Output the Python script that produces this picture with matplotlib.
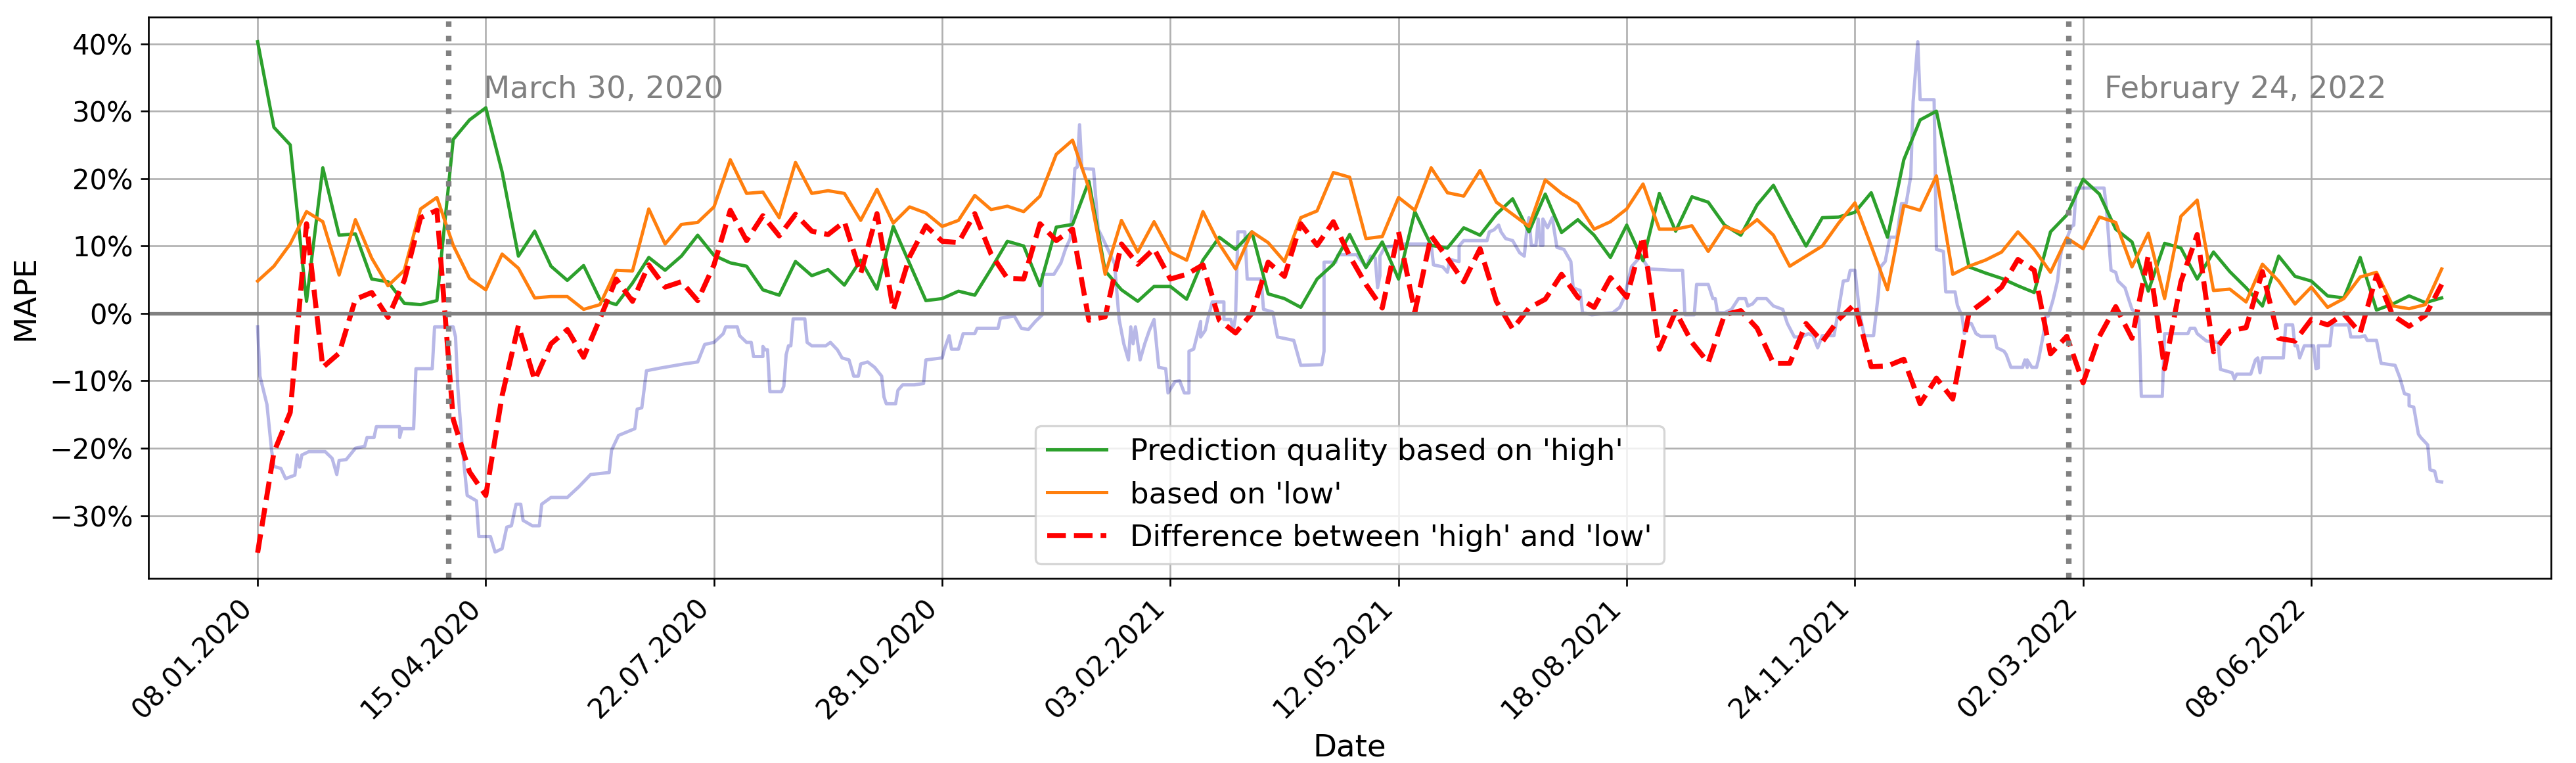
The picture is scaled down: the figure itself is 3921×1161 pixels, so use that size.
import numpy as np
import pandas as pd
import matplotlib
matplotlib.use('Agg')
import matplotlib.pyplot as plt
from matplotlib.ticker import PercentFormatter

# weekly points, every Wednesday from 08.01.2020
start = pd.Timestamp('2020-01-08')
n_weeks = 135

# MAPE in percent, prediction based on 'high'
mape_high = [
    40.3, 27.6, 25.0, 1.8, 21.6, 11.6, 11.8, 5.1, 4.7, 1.5,
    1.3, 1.9, 25.8, 28.7, 30.5, 21.0, 8.5, 12.2, 7.0, 4.9,
    7.1, 2.1, 1.3, 4.5, 8.3, 6.4, 8.5, 11.6, 8.6, 7.5,
    7.0, 3.5, 2.7, 7.7, 5.6, 6.5, 4.2, 7.9, 3.6, 12.9,
    7.4, 1.9, 2.2, 3.3, 2.7, 6.6, 10.7, 10.0, 4.1, 12.8,
    13.2, 19.6, 6.3, 3.5, 1.8, 4.0, 4.0, 2.1, 7.9, 11.3,
    9.5, 12.1, 2.9, 2.2, 0.9, 5.1, 7.3, 11.7, 6.8, 10.6,
    5.1, 15.1, 10.1, 9.7, 12.7, 11.6, 14.7, 17.0, 12.1, 17.7,
    12.0, 13.9, 11.6, 8.3, 13.1, 7.8, 17.8, 12.2, 17.3, 16.5,
    13.1, 11.6, 16.1, 19.0, 14.4, 10.0, 14.2, 14.3, 15.0, 17.9,
    11.3, 22.8, 28.7, 30.0, 18.5, 6.9, 6.0, 5.2, 4.1, 3.1,
    12.1, 14.6, 19.9, 17.7, 12.5, 10.6, 3.3, 10.4, 9.7, 5.1,
    9.1, 6.2, 3.8, 1.1, 8.5, 5.5, 4.8, 2.6, 2.3, 8.3,
    0.5, 1.4, 2.6, 1.6, 2.3,
]

# MAPE in percent, prediction based on 'low'
mape_low = [
    4.8, 7.0, 10.3, 15.1, 13.6, 5.7, 13.9, 8.2, 4.1, 6.4,
    15.5, 17.2, 10.1, 5.2, 3.5, 8.8, 6.7, 2.3, 2.5, 2.5,
    0.6, 1.3, 6.4, 6.3, 15.5, 10.3, 13.2, 13.5, 15.8, 22.8,
    17.8, 18.0, 14.2, 22.4, 17.8, 18.2, 17.8, 13.8, 18.4, 13.4,
    15.8, 14.9, 12.9, 13.8, 17.5, 15.4, 15.9, 15.1, 17.4, 23.6,
    25.7, 18.6, 5.8, 13.8, 9.1, 13.6, 9.1, 7.9, 15.1, 10.3,
    6.6, 12.1, 10.5, 7.7, 14.2, 15.2, 20.9, 20.2, 11.1, 11.4,
    17.2, 15.3, 21.6, 17.9, 17.4, 21.2, 16.5, 14.7, 12.9, 19.8,
    17.8, 16.3, 12.5, 13.6, 15.5, 19.2, 12.5, 12.5, 13.0, 9.2,
    12.9, 12.0, 13.9, 11.6, 7.0, 8.5, 10.0, 13.4, 16.4, 10.0,
    3.5, 16.0, 15.3, 20.4, 5.8, 7.0, 7.9, 9.1, 12.1, 9.5,
    6.1, 11.2, 9.6, 14.3, 13.5, 6.9, 11.9, 2.2, 14.4, 16.8,
    3.4, 3.6, 1.7, 7.3, 4.8, 1.4, 3.9, 0.9, 2.2, 5.4,
    6.1, 1.1, 0.7, 1.3, 6.6,
]

# background series (light blue), day offset from start and value in percent
lav_day = [
    0, 1, 4, 6, 7, 10, 12, 16, 17, 18, 19, 22, 29, 32, 34, 35, 38, 42, 46, 47,
    50, 51, 61, 61, 62, 67, 68, 75, 76, 84, 85, 86, 88, 90, 94, 95, 100, 102, 105, 107,
    109, 111, 113, 114, 118, 121, 122, 126, 133, 138, 143, 151, 152, 155, 162, 163, 165, 167, 173, 183,
    189, 192, 196, 200, 201, 206, 207, 210, 212, 213, 217, 217, 218, 219, 220, 225, 226, 227, 228, 229,
    230, 235, 236, 238, 244, 246, 249, 251, 254, 256, 258, 259, 262, 265, 268, 269, 270, 274, 275, 277,
    282, 286, 287, 294, 295, 297, 298, 301, 303, 308, 309, 318, 319, 325, 328, 331, 334, 337, 337, 342,
    345, 347, 349, 351, 352, 353, 354, 359, 361, 363, 368, 370, 372, 374, 375, 376, 377, 379, 381, 383,
    385, 386, 387, 390, 391, 394, 396, 398, 400, 400, 402, 405, 405, 407, 408, 410, 415, 415, 418, 419,
    420, 421, 424, 425, 431, 432, 436, 438, 445, 448, 457, 458, 458, 463, 464, 472, 476, 478, 480, 481,
    482, 482, 484, 488, 491, 504, 505, 509, 511, 512, 516, 516, 518, 528, 529, 531, 533, 534, 536, 539,
    542, 544, 545, 546, 547, 549, 550, 551, 552, 552, 554, 556, 558, 561, 564, 565, 568, 569, 573, 582,
    585, 587, 590, 594, 597, 598, 607, 612, 613, 617, 618, 623, 625, 626, 627, 630, 633, 636, 639, 640,
    642, 644, 648, 651, 655, 657, 660, 663, 666, 668, 670, 672, 677, 679, 681, 683, 684, 686, 688, 690,
    694, 696, 697, 699, 701, 704, 706, 708, 710, 711, 713, 714, 720, 721, 724, 725, 729, 730, 732, 733,
    735, 736, 738, 740, 746, 747, 750, 751, 753, 758, 759, 760, 760, 762, 764, 765, 767, 768, 769, 771,
    773, 774, 775, 777, 779, 780, 781, 793, 794, 796, 798, 799, 802, 803, 805, 807, 808, 809, 818, 819,
    829, 830, 832, 833, 837, 842, 843, 848, 849, 850, 856, 858, 859, 860, 861, 870, 871, 874, 875, 876,
    877, 879, 883, 884, 885, 885, 890, 891, 898, 899, 903, 905, 906, 910, 912, 918, 920, 922, 924, 924,
    926, 928, 929, 932, 933, 935, 936, 938,
]
lav_val = [
    -2.0, -9.3, -13.5, -20.3, -22.7, -23.0, -24.5, -24.0, -21.0, -22.8, -21.0, -20.5, -20.5, -21.5, -23.9, -21.8, -21.7, -20.0, -19.7, -18.4,
    -18.4, -16.8, -16.8, -18.4, -17.1, -17.1, -8.2, -8.2, -2.0, -2.0, -3.5, -11.1, -20.3, -27.0, -27.8, -33.1, -33.1, -35.4, -34.9, -31.7,
    -31.5, -28.3, -28.3, -30.7, -31.5, -31.5, -28.3, -27.3, -27.3, -25.7, -23.9, -23.6, -20.3, -18.1, -17.1, -14.2, -14.0, -8.5, -8.1, -7.5,
    -7.2, -4.6, -4.3, -3.0, -2.0, -2.0, -3.3, -4.3, -4.3, -6.4, -6.4, -4.9, -5.4, -5.4, -11.6, -11.6, -10.8, -6.1, -4.8, -4.8,
    -0.8, -0.8, -4.3, -4.8, -4.8, -4.3, -5.4, -6.6, -6.9, -9.3, -9.3, -7.5, -7.2, -8.0, -9.3, -12.4, -13.4, -13.4, -11.4, -10.6,
    -10.6, -10.4, -6.9, -6.6, -5.3, -3.3, -5.3, -5.3, -3.0, -3.0, -2.2, -2.2, -0.7, -0.4, -2.2, -2.4, -1.2, -0.2, 5.8, 5.8,
    7.5, 9.6, 11.1, 21.5, 21.7, 28.0, 21.5, 21.4, 12.5, 11.1, 7.4, -0.9, -4.5, -6.9, -2.0, -4.5, -2.0, -6.9, -4.5, -2.5,
    -0.9, -4.5, -8.0, -8.2, -11.8, -10.1, -10.0, -11.8, -11.8, -5.6, -5.3, -1.2, -3.5, -2.5, -0.9, 1.7, 1.7, -0.9, -0.9, -2.5,
    -0.4, 12.1, 12.1, 5.1, 5.1, 0.6, 0.2, -3.5, -4.0, -7.7, -7.6, -5.6, 7.6, 7.6, 8.7, 8.7, 6.9, 8.5, 8.2, 3.8,
    5.6, 8.5, 9.8, 10.0, 10.3, 10.3, 7.2, 6.9, 6.1, 8.0, 7.7, 10.0, 10.8, 10.8, 12.1, 12.4, 13.1, 12.1, 11.1, 10.8,
    9.0, 8.5, 12.1, 14.2, 10.1, 10.1, 14.0, 10.1, 10.1, 14.0, 12.7, 14.2, 9.8, 9.5, 7.7, 3.8, 3.4, 0.1, -0.2, 0.1,
    0.9, 2.4, 6.9, 8.5, 6.9, 6.6, 6.4, 6.4, -0.2, -0.2, 4.3, 4.3, 2.2, 2.2, 0.1, 0.1, 0.6, 2.2, 2.2, 1.1,
    1.4, 2.2, 2.2, 1.1, 0.6, -1.5, -3.5, -3.5, -3.0, -3.3, -5.1, -3.3, -3.3, 0.6, 4.8, 4.9, 6.4, 6.4, 0.1, -3.3,
    -3.3, 2.7, 6.9, 7.7, 11.3, 11.3, 16.3, 16.3, 20.4, 31.4, 40.3, 31.7, 31.7, 9.5, 9.2, 3.2, 3.2, 1.2, -0.4, -3.0,
    -1.5, -1.5, -3.0, -3.4, -3.4, -5.1, -5.6, -6.1, -8.0, -8.0, -6.9, -8.0, -6.9, -8.0, -8.0, -6.6, -3.0, -0.4, -0.4, 1.9,
    4.8, 8.0, 9.8, 11.1, 12.9, 13.1, 18.6, 18.6, 15.7, 6.4, 6.1, 4.8, 3.8, 2.7, 0.6, 0.1, -1.0, -12.3, -12.3, -3.0,
    -3.0, -2.2, -2.2, -3.0, -4.1, -4.3, -8.3, -8.8, -9.7, -9.0, -9.0, -6.9, -6.6, -8.8, -6.6, -6.6, -1.7, -1.7, -4.8, -4.8,
    -6.6, -4.8, -4.8, -8.2, -8.1, -4.8, -4.8, -1.7, -1.7, -3.5, -3.5, -3.3, -4.0, -4.0, -7.4, -7.7, -9.5, -11.9, -12.1, -13.7,
    -13.9, -17.9, -18.4, -19.5, -23.2, -23.4, -24.9, -25.0,
]

# events marked with dotted lines
events = [pd.Timestamp('2020-03-30'), pd.Timestamp('2022-02-24')]
event_labels = ['March 30, 2020', 'February 24, 2022']

weeks = pd.date_range(start, periods=n_weeks, freq='7D')
high = np.array(mape_high)
low = np.array(mape_low)
diff = low - high
lav_dates = start + pd.to_timedelta(lav_day, unit='D')

fig, ax = plt.subplots(figsize=(3922 / 240, 1161 / 240), dpi=240)
fig.subplots_adjust(left=0.0576, right=0.990, top=0.978, bottom=0.242)

ax.plot(lav_dates, lav_val, color='#0000aa', alpha=0.28, lw=1.5)
ax.plot(weeks, high, color='tab:green', lw=1.5, label="Prediction quality based on 'high'")
ax.plot(weeks, low, color='tab:orange', lw=1.5, label="based on 'low'")
ax.plot(weeks, diff, color='red', ls='--', lw=2.3, label="Difference between 'high' and 'low'")

ax.axhline(0, color='gray', lw=1.6)
for ev, txt in zip(events, event_labels):
    ax.axvline(ev, color='gray', ls=':', lw=2.5)
    ax.text(ev + pd.Timedelta(days=15), 32, txt, color='gray', fontsize=14)

ax.grid(True)
ax.yaxis.set_major_formatter(PercentFormatter(100, decimals=0))
ax.set_ylim(-39.3, 44.0)

ticks = weeks[::14]
ax.set_xticks(ticks)
ax.set_xticklabels([t.strftime('%d.%m.%Y') for t in ticks], rotation=45, ha='right')
ax.tick_params(labelsize=12.5)

ax.set_xlabel('Date', fontsize=14)
ax.set_ylabel('MAPE', fontsize=14)
ax.legend(loc='lower center', fontsize=13.5)

fig.savefig('out.png', dpi=240)
